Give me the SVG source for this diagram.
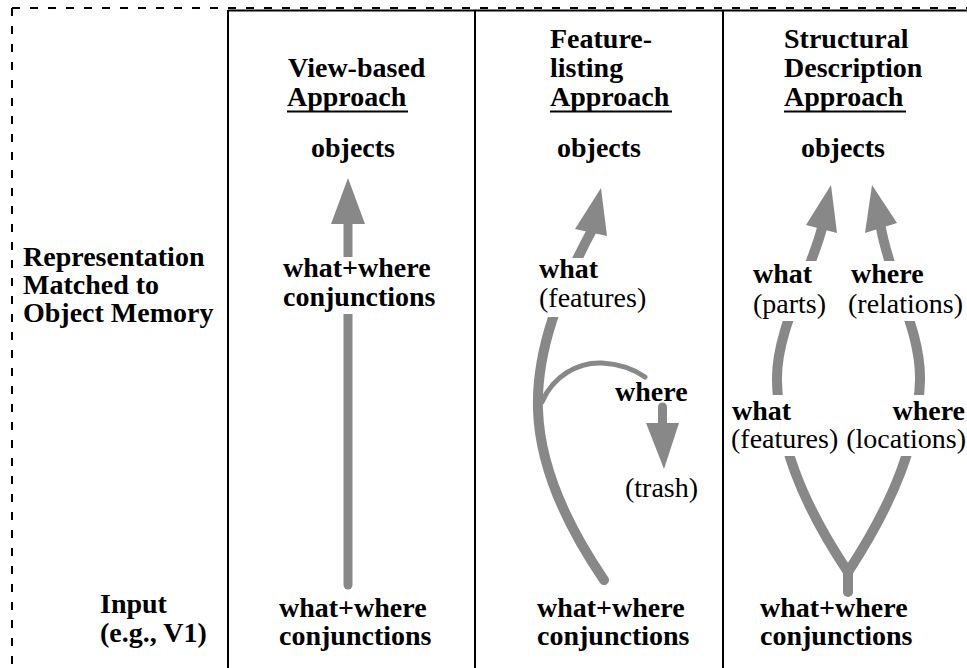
<svg xmlns="http://www.w3.org/2000/svg" width="967" height="668" viewBox="0 0 967 668">
<style>
.b{font-family:"Liberation Serif","Times New Roman",serif;font-size:28px;font-weight:bold;fill:#000}
.r{font-family:"Liberation Serif","Times New Roman",serif;font-size:28px;font-weight:normal;fill:#000}
.frame{stroke:#000;stroke-width:2;fill:none}
.dash{stroke:#000;stroke-width:2;fill:none;stroke-dasharray:8 10}
.ul{stroke:#000;stroke-width:2.2}
.wire{stroke:#888;fill:none;stroke-linecap:round}
.head{fill:#888;stroke:none}
.bg{fill:#fff}
</style>
<rect width="967" height="668" fill="#fff"/>
<g id="frame">
<line class="dash" x1="12" y1="8" x2="967" y2="8"/>
<line class="dash" x1="12" y1="8" x2="12" y2="668"/>
<line class="frame" x1="228" y1="10.5" x2="967" y2="10.5"/>
<line class="frame" x1="228" y1="10" x2="228" y2="668"/>
<line class="frame" x1="475" y1="10" x2="475" y2="668"/>
<line class="frame" x1="723" y1="10" x2="723" y2="668"/>
</g>
<g id="connectors">
<line class="wire" x1="348" y1="585" x2="348" y2="222" stroke-width="9"/>
<polygon class="head" points="348,178 331,224 365,224"/>
<path class="wire" d="M604,580 C570,530 540,470 538,410 C536,350 560,290 591,232" stroke-width="10"/>
<polygon class="head" points="601,188 575,229 607,236"/>
<path class="wire" d="M542,402 C553,376 578,362 602,363 C620,364 635,370 645,377" stroke-width="5"/>
<line class="wire" x1="662.5" y1="407" x2="662.5" y2="426" stroke-width="9" stroke-linecap="butt"/>
<polygon class="head" points="646,423 679,423 664,469"/>
<path class="wire" d="M848,572 C800,500 778,440 777,380 C776,330 810,275 822,228" stroke-width="10"/>
<path class="wire" d="M848,572 C895,500 918,440 920,380 C921,330 890,280 881,228" stroke-width="10"/>
<line class="wire" x1="848" y1="570" x2="848" y2="592" stroke-width="10"/>
<polygon class="head" points="831,185 806,225 837,233"/>
<polygon class="head" points="872,185 865,233 897,223"/>
</g>
<g id="row-labels">
<text class="b" x="23" y="266">Representation</text>
<text class="b" x="23" y="294">Matched to</text>
<text class="b" x="23" y="322">Object Memory</text>
<text class="b" x="100" y="613">Input</text>
<text class="b" x="100" y="642">(e.g., V1)</text>
</g>
<g id="col-view">
<text class="b" x="288" y="77">View-based</text>
<text class="b" x="287" y="106">Approach</text>
<line class="ul" x1="287" y1="111.5" x2="408" y2="111.5"/>
<text class="b" x="311" y="157">objects</text>
<rect class="bg" x="280" y="257" width="160" height="57"/>
<text class="b" x="283" y="277">what+where</text>
<text class="b" x="283" y="306">conjunctions</text>
<text class="b" x="279" y="617">what+where</text>
<text class="b" x="279" y="645">conjunctions</text>
</g>
<g id="col-feature">
<text class="b" x="550" y="48">Feature-</text>
<text class="b" x="550" y="77">listing</text>
<text class="b" x="550" y="106">Approach</text>
<line class="ul" x1="550" y1="111.5" x2="672" y2="111.5"/>
<text class="b" x="557" y="157">objects</text>
<rect class="bg" x="536" y="258" width="114" height="59"/>
<text class="b" x="539" y="278">what</text>
<text class="r" x="539" y="307">(features)</text>
<text class="b" x="615" y="401">where</text>
<text class="r" x="625" y="497">(trash)</text>
<text class="b" x="537" y="617">what+where</text>
<text class="b" x="537" y="645">conjunctions</text>
</g>
<g id="col-structural">
<text class="b" x="784" y="48">Structural</text>
<text class="b" x="784" y="77">Description</text>
<text class="b" x="784" y="106">Approach</text>
<line class="ul" x1="784" y1="111.5" x2="906" y2="111.5"/>
<text class="b" x="801" y="157">objects</text>
<rect class="bg" x="748" y="261" width="219" height="60"/>
<text class="b" x="753" y="283">what</text>
<text class="r" x="753" y="313">(parts)</text>
<text class="b" x="851" y="283">where</text>
<text class="r" x="848" y="313">(relations)</text>
<rect class="bg" x="726" y="395" width="241" height="61"/>
<text class="b" x="732" y="420">what</text>
<text class="r" x="731" y="448">(features)</text>
<text class="b" x="965" y="420" text-anchor="end">where</text>
<text class="r" x="966" y="448" text-anchor="end">(locations)</text>
<text class="b" x="760" y="617">what+where</text>
<text class="b" x="760" y="645">conjunctions</text>
</g>
</svg>
